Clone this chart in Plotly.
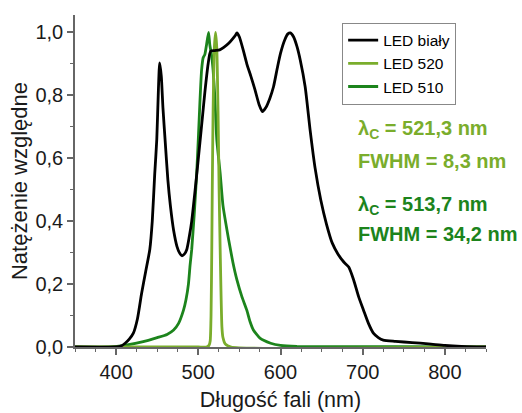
import plotly.graph_objects as go

# Emission spectra, normalised intensity vs wavelength (nm)
white_wl = [350, 400, 405, 411, 416, 421, 426, 431, 436, 441, 444, 447, 449.5, 451.5, 453,
            455, 457, 459.6, 463, 466, 470, 474, 477, 480, 483, 486, 489, 492, 497, 502,
            505, 508, 512, 515, 520, 526, 531, 537, 542, 545, 547, 550, 555, 559, 564,
            569, 574, 578, 582, 587, 591.5, 596, 600, 605, 609, 612, 616, 620, 624, 630,
            636, 642, 649, 656, 663, 670, 677, 683, 689, 695, 701, 707, 713, 719, 725,
            740, 760, 780, 800, 820, 850]
white_val = [0.0, 0.0, 0.002, 0.012, 0.025, 0.044, 0.09, 0.17, 0.24, 0.31, 0.40, 0.55, 0.66, 0.82, 0.903,
             0.86, 0.76, 0.658, 0.53, 0.45, 0.37, 0.32, 0.30, 0.29, 0.295, 0.31, 0.35, 0.40, 0.52, 0.65,
             0.73, 0.81, 0.90, 0.94, 0.942, 0.944, 0.952, 0.965, 0.98, 0.99, 0.998, 0.985, 0.94, 0.90, 0.86,
             0.817, 0.77, 0.748, 0.76, 0.79, 0.827, 0.885, 0.933, 0.975, 0.995, 0.998, 0.985, 0.955, 0.912, 0.827,
             0.69, 0.57, 0.467, 0.39, 0.33, 0.295, 0.27, 0.254, 0.213, 0.16, 0.117, 0.075, 0.044, 0.03, 0.022,
             0.018, 0.014, 0.01, 0.005, 0.002, 0.0]

led520_wl = [350, 500, 510, 513, 514.5, 515.5, 516.4, 517, 518, 519.5, 521, 522.5, 524, 525.3,
             526.6, 528.7, 530, 532.7, 540, 850]
led520_val = [0.0, 0.0, 0.0, 0.005, 0.02, 0.10, 0.31, 0.50, 0.75, 0.95, 1.0, 0.95, 0.75, 0.50,
              0.31, 0.065, 0.03, 0.01, 0.0, 0.0]

led510_wl = [350, 393, 410, 433, 450, 462, 470, 476, 482, 485, 488, 490, 492, 495, 498, 500,
             502, 504, 506, 508, 510, 512.5, 514, 516, 518, 520, 522.5, 526.6, 530, 537, 542,
             547, 553, 559, 563, 567, 575, 588, 600, 620, 850]
led510_val = [0.0, 0.0, 0.005, 0.017, 0.03, 0.04, 0.054, 0.075, 0.117, 0.15, 0.20, 0.26, 0.31, 0.42, 0.55, 0.66,
              0.78, 0.88, 0.92, 0.93, 0.96, 1.0, 0.96, 0.93, 0.88, 0.80, 0.658, 0.552, 0.45, 0.34, 0.27,
              0.213, 0.16, 0.117, 0.08, 0.054, 0.028, 0.012, 0.005, 0.002, 0.0]

C_WHITE = "#000000"
C_520 = "#7aad2c"
C_510 = "#1c841c"

FAMILY = "Liberation Sans, Arial, sans-serif"

fig = go.Figure()
fig.add_trace(go.Scatter(x=led510_wl, y=led510_val, name="LED 510", mode="lines",
                         line=dict(color=C_510, width=2.8, shape="spline", smoothing=0.5),
                         legendrank=3))
fig.add_trace(go.Scatter(x=led520_wl, y=led520_val, name="LED 520", mode="lines",
                         line=dict(color=C_520, width=2.8, shape="spline", smoothing=0.5),
                         legendrank=2))
fig.add_trace(go.Scatter(x=white_wl, y=white_val, name="LED biały", mode="lines",
                         line=dict(color=C_WHITE, width=2.8, shape="spline", smoothing=0.6),
                         legendrank=1))

tick_font = dict(family=FAMILY, size=20, color="#1a1a1a")

fig.update_layout(
    width=522, height=413,
    margin=dict(l=75, r=36, t=15, b=66),
    paper_bgcolor="white", plot_bgcolor="white",
    separators=", ",
    font=dict(family=FAMILY, color="#1a1a1a"),
    showlegend=True,
    legend=dict(x=0.65, y=0.977, xanchor="left", yanchor="top",
                bordercolor="#888888", borderwidth=1, bgcolor="white",
                font=dict(family=FAMILY, size=15.5, color="#000"),
                tracegroupgap=0, itemwidth=30),
    xaxis=dict(range=[350, 850], tick0=0, dtick=100, showgrid=False, zeroline=False,
               automargin=False,
               showline=True, linecolor="#666666", linewidth=1.5,
               ticks="outside", ticklen=6, tickcolor="#666666", tickwidth=1.5,
               minor=dict(dtick=25, ticks="outside", ticklen=3, tickcolor="#666666", tickwidth=1),
               tickfont=tick_font,
               title=dict(text="Długość fali (nm)", font=dict(size=21.5), standoff=10)),
    yaxis=dict(range=[0, 1.055], tick0=0, dtick=0.2, tickformat=".1f", showgrid=False,
               zeroline=False, automargin=False,
               showline=True, linecolor="#666666", linewidth=1.5,
               ticks="outside", ticklen=6, tickcolor="#666666", tickwidth=1.5,
               minor=dict(dtick=0.1, ticks="outside", ticklen=3, tickcolor="#666666", tickwidth=1),
               tickfont=tick_font,
               title=dict(text="Natężenie względne", font=dict(size=22), standoff=2)),
)

ann_font = dict(family=FAMILY, size=20)
notes = [
    ("λ<sub>C</sub> = 521,3 nm", 0.655, C_520),
    ("FWHM = 8,3 nm", 0.56, C_520),
    ("λ<sub>C</sub> = 513,7 nm", 0.425, C_510),
    ("FWHM = 34,2 nm", 0.34, C_510),
]
for text, ypos, col in notes:
    fig.add_annotation(text=f"<b>{text}</b>", xref="paper", yref="paper",
                       x=0.683, y=ypos, xanchor="left", yanchor="middle",
                       showarrow=False, font=dict(color=col, **ann_font))

fig.write_html("out.html")
